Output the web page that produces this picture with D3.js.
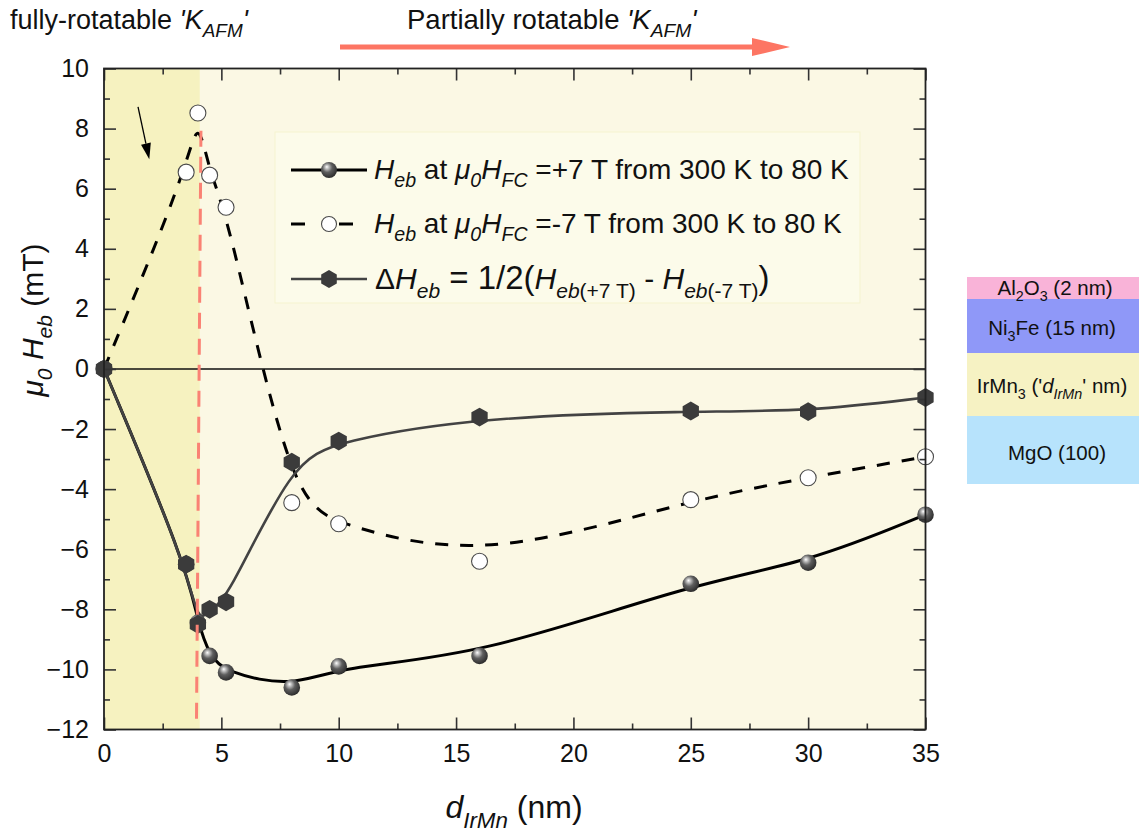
<!DOCTYPE html>
<html>
<head>
<meta charset="utf-8">
<script src="https://cdn.jsdelivr.net/npm/d3@7"></script>
<style>
  html, body { margin: 0; padding: 0; background: #ffffff; }
  svg text { font-family: "Liberation Sans", Arial, sans-serif; white-space: pre; }
</style>
</head>
<body>
<svg id="chart" width="1139" height="834"></svg>
<script>
// IrMn thickness (nm) and exchange-bias fields (mT)
const thickness = [0, 3.5, 4, 4.5, 5.2, 8, 10, 16, 25, 30, 35];
const hebPlus7T = [0, -6.5, -8.45, -9.55, -10.1, -10.6, -9.9, -9.55, -7.15, -6.45, -4.85];
const hebMinus7T = [0, 6.55, 8.52, 6.45, 5.38, -4.45, -5.15, -6.4, -4.35, -3.62, -2.92];
const deltaHeb = [0, -6.5, -8.5, -8.0, -7.75, -3.1, -2.4, -1.6, -1.4, -1.42, -0.95];

// axis ticks
const xMajorTicks = [0, 5, 10, 15, 20, 25, 30, 35];
const xMinorTicks = [2.5, 7.5, 12.5, 17.5, 22.5, 27.5, 32.5];
const yMajorTicks = [-12, -10, -8, -6, -4, -2, 0, 2, 4, 6, 8, 10];
const yMinorTicks = [-11, -9, -7, -5, -3, -1, 1, 3, 5, 7, 9];

// thickness boundary between the two AFM regimes
const fullyRotatableLimit = 4.08;
const boundaryLine = [[4.13, 7.93], [3.94, -11.75]];
const cueArrow = [[1.45, 8.72], [1.93, 6.98]];

// sample stack
const layerNames = ["Al2O3 (2 nm)", "Ni3Fe (15 nm)", "IrMn3 ('dIrMn' nm)", "MgO (100)"];
const layerColors = ["#f9b3d8", "#8f98f8", "#f6f2c3", "#b7e3fc"];

const svg = d3.select("#chart");
const m = { left: 104, right: 925.5, top: 68.5, bottom: 729.5 };

const x = d3.scaleLinear().domain([0, 35]).range([m.left, m.right]);
const y = d3.scaleLinear().domain([-12, 10]).range([m.bottom, m.top]);

const defs = svg.append("defs");
const grad = defs.append("radialGradient").attr("id", "ball")
  .attr("cx", 0.42).attr("cy", 0.38).attr("r", 0.62).attr("fx", 0.36).attr("fy", 0.3);
grad.append("stop").attr("offset", 0).attr("stop-color", "#ffffff");
grad.append("stop").attr("offset", 0.16).attr("stop-color", "#c9c9c9");
grad.append("stop").attr("offset", 0.5).attr("stop-color", "#5e5e5e");
grad.append("stop").attr("offset", 1).attr("stop-color", "#2c2c2c");

// rich text helper: segments with italic / subscript flags
function rich(sel, segs, size) {
  let shift = 0;
  segs.forEach(s => {
    const sub = !!s.sub;
    const target = sub ? size * 0.3 : 0;
    const ts = sel.append("tspan").text(s.t)
      .attr("font-size", sub ? size * 0.7 : (s.size || size))
      .attr("font-style", s.it ? "italic" : "normal");
    if (target !== shift) { ts.attr("dy", target - shift); shift = target; }
  });
  return sel;
}

// plot backgrounds
svg.append("rect").attr("x", x(0)).attr("y", y(10))
  .attr("width", x(35) - x(0)).attr("height", y(-12) - y(10)).attr("fill", "#fbf8e4");
svg.append("rect").attr("x", x(0)).attr("y", y(10))
  .attr("width", x(fullyRotatableLimit) - x(0)).attr("height", y(-12) - y(10)).attr("fill", "#f6f2c0");

// legend panel
svg.append("rect").attr("x", 275).attr("y", 132).attr("width", 585).attr("height", 171)
  .attr("fill", "#fcfbea").attr("stroke", "#f6f3cf").attr("stroke-width", 1);

// zero line
svg.append("line").attr("x1", x(0)).attr("x2", x(35)).attr("y1", y(0)).attr("y2", y(0))
  .attr("stroke", "#111").attr("stroke-width", 1.4);

// smoothed curves
const series = thickness.map((t, i) => ({ t, p: hebPlus7T[i], n: hebMinus7T[i], d: deltaHeb[i] }));
const curve = key => d3.line().x(d => x(d.t)).y(d => y(d[key])).curve(d3.curveBasis)(series);

svg.append("path").attr("d", curve("n")).attr("fill", "none")
  .attr("stroke", "#000").attr("stroke-width", 3).attr("stroke-dasharray", "13,12");
svg.append("path").attr("d", curve("p")).attr("fill", "none")
  .attr("stroke", "#000").attr("stroke-width", 3);
svg.append("path").attr("d", curve("d")).attr("fill", "none")
  .attr("stroke", "#434343").attr("stroke-width", 2.6);

// markers
const hexPath = r => d3.range(6).map(k => {
  const a = Math.PI / 3 * k - Math.PI / 2;
  return [r * Math.cos(a), r * Math.sin(a)];
});
const hexD = r => "M" + hexPath(r).map(p => p.join(",")).join("L") + "Z";

svg.append("g").selectAll("circle").data(series).join("circle")
  .attr("cx", d => x(d.t)).attr("cy", d => y(d.n)).attr("r", 8)
  .attr("fill", "#fff").attr("stroke", "#4a4a4a").attr("stroke-width", 1.1);
svg.append("g").selectAll("circle").data(series).join("circle")
  .attr("cx", d => x(d.t)).attr("cy", d => y(d.p)).attr("r", 8.3)
  .attr("fill", "url(#ball)");
svg.append("g").selectAll("path").data(series).join("path")
  .attr("transform", d => `translate(${x(d.t)},${y(d.d)})`)
  .attr("d", hexD(9.4)).attr("fill", "#3b3b3b");

// regime boundary
svg.append("line")
  .attr("x1", x(boundaryLine[0][0])).attr("y1", y(boundaryLine[0][1]))
  .attr("x2", x(boundaryLine[1][0])).attr("y2", y(boundaryLine[1][1]))
  .attr("stroke", "#fa8274").attr("stroke-width", 3).attr("stroke-dasharray", "16,10");

// small pointer arrow
{
  const [x1, y1] = [x(cueArrow[0][0]), y(cueArrow[0][1])];
  const [x2, y2] = [x(cueArrow[1][0]), y(cueArrow[1][1])];
  const ang = Math.atan2(y2 - y1, x2 - x1);
  const L = 16, Wd = 5;
  const bx = x2 - L * Math.cos(ang), by = y2 - L * Math.sin(ang);
  svg.append("line").attr("x1", x1).attr("y1", y1).attr("x2", bx).attr("y2", by)
    .attr("stroke", "#000").attr("stroke-width", 1.3);
  svg.append("path").attr("d", `M${x2},${y2}L${bx + Wd * Math.sin(ang)},${by - Wd * Math.cos(ang)}L${bx - Wd * Math.sin(ang)},${by + Wd * Math.cos(ang)}Z`)
    .attr("fill", "#000");
}

// axes (ticks pointing inward)
const tickStyle = g => {
  g.select(".domain").remove();
  g.selectAll(".tick line").attr("stroke", "#333").attr("stroke-width", 1.6);
  g.selectAll(".tick text").attr("fill", "#111").attr("font-size", 25)
    .attr("font-family", '"Liberation Sans", Arial, sans-serif');
};
svg.append("g").attr("transform", `translate(0,${m.bottom})`)
  .call(d3.axisBottom(x).tickValues(xMajorTicks).tickSizeInner(-12).tickSizeOuter(0).tickPadding(15).tickFormat(d3.format("d")))
  .call(tickStyle);
svg.append("g").attr("transform", `translate(0,${m.bottom})`)
  .call(d3.axisBottom(x).tickValues(xMinorTicks).tickSizeInner(-6).tickSizeOuter(0).tickFormat(""))
  .call(tickStyle);
svg.append("g").attr("transform", `translate(0,${m.top})`)
  .call(d3.axisTop(x).tickValues(xMajorTicks).tickSizeInner(-12).tickSizeOuter(0).tickFormat(""))
  .call(tickStyle);
svg.append("g").attr("transform", `translate(0,${m.top})`)
  .call(d3.axisTop(x).tickValues(xMinorTicks).tickSizeInner(-6).tickSizeOuter(0).tickFormat(""))
  .call(tickStyle);
svg.append("g").attr("transform", `translate(${m.left},0)`)
  .call(d3.axisLeft(y).tickValues(yMajorTicks).tickSizeInner(-12).tickSizeOuter(0).tickPadding(15).tickFormat(d3.format("d")))
  .call(tickStyle);
svg.append("g").attr("transform", `translate(${m.left},0)`)
  .call(d3.axisLeft(y).tickValues(yMinorTicks).tickSizeInner(-6).tickSizeOuter(0).tickFormat(""))
  .call(tickStyle);
svg.append("g").attr("transform", `translate(${m.right},0)`)
  .call(d3.axisRight(y).tickValues(yMajorTicks).tickSizeInner(-12).tickSizeOuter(0).tickFormat(""))
  .call(tickStyle);
svg.append("g").attr("transform", `translate(${m.right},0)`)
  .call(d3.axisRight(y).tickValues(yMinorTicks).tickSizeInner(-6).tickSizeOuter(0).tickFormat(""))
  .call(tickStyle);

// frame
svg.append("rect").attr("x", m.left).attr("y", m.top)
  .attr("width", m.right - m.left).attr("height", m.bottom - m.top)
  .attr("fill", "none").attr("stroke", "#222").attr("stroke-width", 1.8);

// axis titles
rich(svg.append("text").attr("x", 514).attr("y", 818).attr("text-anchor", "middle").attr("fill", "#111"),
  [{ t: "d", it: true }, { t: "IrMn", it: true, sub: true }, { t: " (nm)" }], 32);
rich(svg.append("text").attr("transform", "translate(43,320) rotate(-90)").attr("text-anchor", "middle").attr("fill", "#111"),
  [{ t: "μ", it: true }, { t: "0", it: true, sub: true }, { t: " H", it: true }, { t: "eb", it: true, sub: true }, { t: " (mT)" }], 30);

// legend
const lg = svg.append("g");
const rows = [170, 224, 279];
lg.append("line").attr("x1", 291).attr("x2", 367).attr("y1", rows[0]).attr("y2", rows[0])
  .attr("stroke", "#000").attr("stroke-width", 3);
lg.append("circle").attr("cx", 329).attr("cy", rows[0]).attr("r", 8).attr("fill", "url(#ball)");
lg.append("line").attr("x1", 291).attr("x2", 305).attr("y1", rows[1]).attr("y2", rows[1])
  .attr("stroke", "#000").attr("stroke-width", 3);
lg.append("line").attr("x1", 339).attr("x2", 353).attr("y1", rows[1]).attr("y2", rows[1])
  .attr("stroke", "#000").attr("stroke-width", 3);
lg.append("circle").attr("cx", 329).attr("cy", rows[1]).attr("r", 7.5)
  .attr("fill", "#fff").attr("stroke", "#4a4a4a").attr("stroke-width", 1.1);
lg.append("line").attr("x1", 291).attr("x2", 367).attr("y1", rows[2]).attr("y2", rows[2])
  .attr("stroke", "#434343").attr("stroke-width", 2.6);
lg.append("path").attr("transform", `translate(329,${rows[2]})`).attr("d", hexD(9)).attr("fill", "#3b3b3b");

rich(lg.append("text").attr("x", 374).attr("y", rows[0] + 9).attr("fill", "#111"),
  [{ t: "H", it: true }, { t: "eb", it: true, sub: true }, { t: " at " }, { t: "μ", it: true }, { t: "0", it: true, sub: true },
   { t: "H", it: true }, { t: "FC", it: true, sub: true }, { t: " =+7 T from 300 K to 80 K" }], 28);
rich(lg.append("text").attr("x", 374).attr("y", rows[1] + 9).attr("fill", "#111"),
  [{ t: "H", it: true }, { t: "eb", it: true, sub: true }, { t: " at " }, { t: "μ", it: true }, { t: "0", it: true, sub: true },
   { t: "H", it: true }, { t: "FC", it: true, sub: true }, { t: " =-7 T from 300 K to 80 K" }], 28);
rich(lg.append("text").attr("x", 375).attr("y", rows[2] + 10).attr("fill", "#111"),
  [{ t: "Δ" }, { t: "H", it: true }, { t: "eb", it: true, sub: true }, { t: " = 1/2(", size: 33 }, { t: "H", it: true },
   { t: "eb", it: true, sub: true }, { t: "(+7 T)", sub: true }, { t: " - " }, { t: "H", it: true },
   { t: "eb", it: true, sub: true }, { t: "(-7 T)", sub: true }, { t: ")", size: 33 }], 30);

// regime annotations
rich(svg.append("text").attr("x", 10).attr("y", 29).attr("fill", "#111"),
  [{ t: "fully-rotatable " }, { t: "'K", it: true }, { t: "AFM", it: true, sub: true }, { t: "'", it: true }], 27);
rich(svg.append("text").attr("x", 407).attr("y", 29).attr("fill", "#111"),
  [{ t: "Partially rotatable " }, { t: "'K", it: true }, { t: "AFM", it: true, sub: true }, { t: "'", it: true }], 27.5);
svg.append("line").attr("x1", 340).attr("x2", 756).attr("y1", 47).attr("y2", 47)
  .attr("stroke", "#fd7563").attr("stroke-width", 5);
svg.append("path").attr("d", "M752,38L790,47L752,56Z").attr("fill", "#fd7563");

// sample stack
const stackX = 967, stackW = 172;
const stackTop = [277, 299, 353, 416];
const stackBot = [299, 353, 416, 484];
const sg = svg.append("g");
layerColors.forEach((c, i) => {
  sg.append("rect").attr("x", stackX).attr("y", stackTop[i]).attr("width", stackW)
    .attr("height", stackBot[i] - stackTop[i]).attr("fill", c);
});
const stackLabels = [
  [{ t: "Al" }, { t: "2", sub: true }, { t: "O" }, { t: "3", sub: true }, { t: " (2 nm)" }],
  [{ t: "Ni" }, { t: "3", sub: true }, { t: "Fe (15 nm)" }],
  [{ t: "IrMn" }, { t: "3", sub: true }, { t: " ('" }, { t: "d", it: true }, { t: "IrMn", it: true, sub: true }, { t: "' nm)" }],
  [{ t: "MgO (100)" }]
];
const labelY = [295, 335, 393, 460];
const labelX = [1055, 1052, 1052, 1057];
stackLabels.forEach((segs, i) => {
  rich(sg.append("text").attr("x", labelX[i]).attr("y", labelY[i]).attr("text-anchor", "middle").attr("fill", "#111"),
    segs, 20.5);
});
</script>
</body>
</html>
